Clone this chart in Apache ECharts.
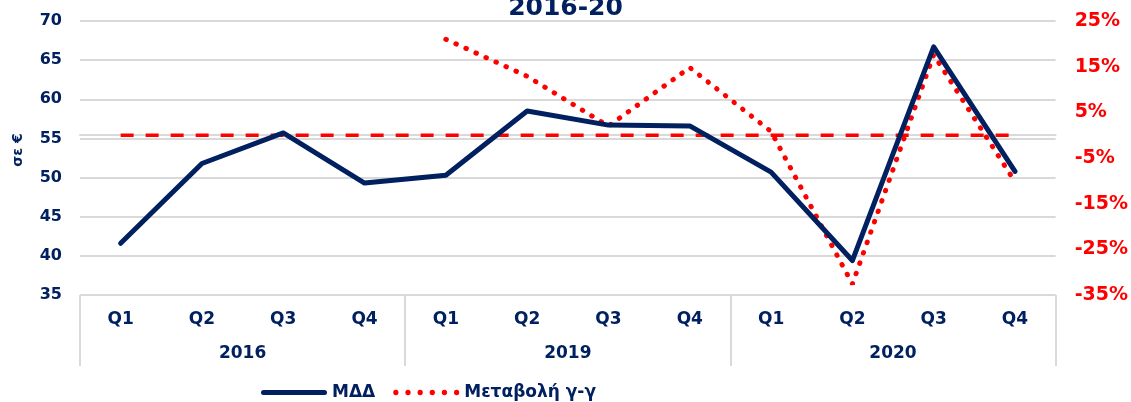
<!DOCTYPE html>
<html>
<head>
<meta charset="utf-8">
<script src="https://cdn.jsdelivr.net/npm/echarts@6/dist/echarts.min.js"></script>
<style>
html,body{margin:0;padding:0;background:#fff;}
#chart{width:1131px;height:402px;}
</style>
</head>
<body>
<div id="chart"></div>
<script>
var quarters = ['Q1','Q2','Q3','Q4','Q1','Q2','Q3','Q4','Q1','Q2','Q3','Q4'];
var years = ['2016','2019','2020'];
var mddValues = [41.6, 51.8, 55.7, 49.3, 50.3, 58.5, 56.7, 56.6, 50.7, 39.4, 66.7, 50.8];
var yoyValues = [null, null, null, null, 21.0, 12.9, 2.0, 14.8, 0.8, -32.6, 17.6, -10.2];
var zeroLine = [0,0,0,0,0,0,0,0,0,0,0,0];
var seriesNames = ['ΜΔΔ', 'Μεταβολή γ-γ'];
var titleText = '2016-20';
var leftAxisName = 'σε €';

var navy = '#002060';
var red = '#ff0000';
var grey = '#d9d9d9';
var font = 'DejaVu Sans';

function dot(cx) {
  return 'M' + (cx - 2.6) + ',2.6a2.6,2.6 0 1,0 5.2,0a2.6,2.6 0 1,0 -5.2,0';
}
var solidIcon = 'path://M2.5,0H63.5A2.5,2.5 0 0 1 63.5,5H2.5A2.5,2.5 0 0 1 2.5,0Z';
var dotIcon = 'path://' + [2.6, 14.6, 26.6, 38.6, 50.6, 62.6].map(dot).join('');

var chart = echarts.init(document.getElementById('chart'), null, {renderer: 'canvas'});
chart.setOption({
  animation: false,
  textStyle: {fontFamily: font},
  title: {
    text: titleText, left: 'center', top: -9,
    textStyle: {color: navy, fontSize: 25, fontWeight: 'bold', fontFamily: font}
  },
  grid: {left: 80, right: 74, top: 21, bottom: 107, containLabel: false},
  legend: {
    data: [{name: seriesNames[0], icon: solidIcon}, {name: seriesNames[1], icon: dotIcon}],
    left: 256, top: 379, itemWidth: 66, itemHeight: 12, itemGap: 18, symbolKeepAspect: true,
    textStyle: {color: navy, fontSize: 17, fontWeight: 'bold', fontFamily: font}
  },
  xAxis: [{
    type: 'category', data: quarters, boundaryGap: true,
    axisLine: {lineStyle: {color: grey, width: 2}},
    axisTick: {show: false},
    axisLabel: {interval: 0, margin: 16, color: navy, fontSize: 17, fontWeight: 'bold', fontFamily: font}
  }, {
    type: 'category', data: years, boundaryGap: true, position: 'bottom', gridIndex: 0,
    axisLine: {show: false},
    axisTick: {show: true, length: 71, interval: 0, lineStyle: {color: grey, width: 2}},
    axisLabel: {interval: 0, margin: 50, color: navy, fontSize: 17, fontWeight: 'bold', fontFamily: font},
    splitLine: {show: false}
  }],
  yAxis: [{
    type: 'value', min: 35, max: 70, interval: 5, position: 'left',
    name: leftAxisName, nameLocation: 'middle', nameRotate: 90, nameGap: 55,
    nameTextStyle: {color: navy, fontSize: 14, fontWeight: 'bold', fontFamily: font, padding: [0, 0, 0, 16]},
    axisLine: {show: false}, axisTick: {show: false},
    splitLine: {lineStyle: {color: grey, width: 2}},
    axisLabel: {margin: 18, color: navy, fontSize: 16, fontWeight: 'bold', fontFamily: font}
  }, {
    type: 'value', min: -35, max: 25, interval: 10, position: 'right',
    axisLine: {show: false}, axisTick: {show: false}, splitLine: {show: false},
    axisLabel: {margin: 19, color: red, fontSize: 19, fontWeight: 'bold', fontFamily: font, formatter: '{value}%'}
  }],
  series: [{
    name: 'zero', type: 'line', yAxisIndex: 1, data: zeroLine, symbol: 'none', silent: true,
    lineStyle: {color: red, width: 3.5, type: [13, 12]}, z: 1
  }, {
    name: seriesNames[0], type: 'line', yAxisIndex: 0, data: mddValues, symbol: 'none',
    lineStyle: {color: navy, width: 5, cap: 'round', join: 'round'}, itemStyle: {color: navy}, z: 3
  }, {
    name: seriesNames[1], type: 'line', yAxisIndex: 1, data: yoyValues, symbol: 'none',
    lineStyle: {color: red, width: 5, type: [0.5, 10.5], cap: 'round'}, itemStyle: {color: red}, z: 2
  }]
});
</script>
</body>
</html>
